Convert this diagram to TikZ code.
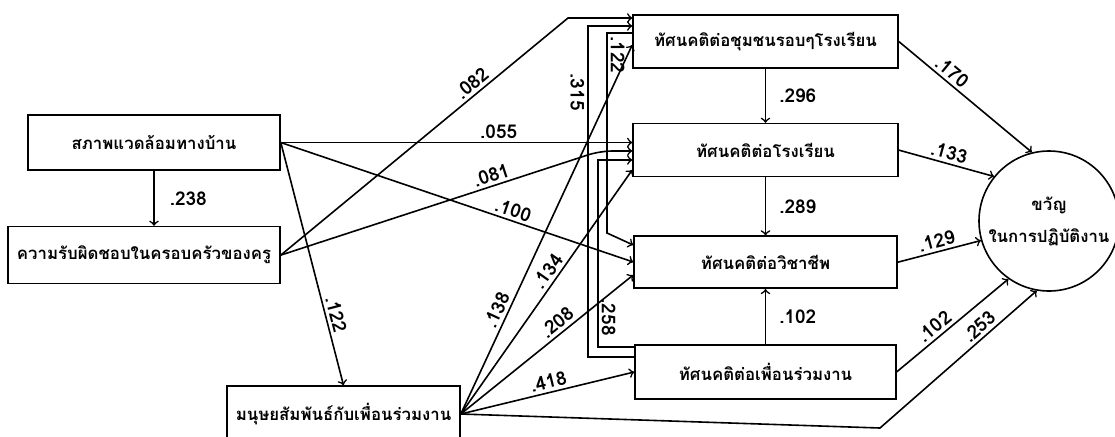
\documentclass[tikz,border=0pt]{standalone}
\usepackage{fontspec}
\setmainfont[Script=Thai]{Loma}
\usetikzlibrary{positioning}
\tikzstyle{path edge}=[->,thick,line cap=round]
\tikzstyle{var box}=[draw,thick,inner sep=0pt,font=\fontsize{8.4}{10}\selectfont\bfseries]
\tikzstyle{coef}=[font=\fontsize{9.5}{10}\selectfont\bfseries,inner sep=1.5pt]
\newcommand{\varnode}[3][]{
  \node [var box, #1] (#2) {#3}
}

\begin{document}
\begin{tikzpicture}[x=0.5pt,y=-0.5pt]
  \useasboundingbox (0,0) rectangle (1115,436);
        \varnode[minimum width=126pt, minimum height=27.5pt, at={(154,142.5)}]{home}{สภาพแวดล้อมทางบ้าน};
        \varnode[minimum width=136pt, minimum height=28.5pt, below left=27.5pt and 0pt of home.south east]{family}{ความรับผิดชอบในครอบครัวของครู};
        \varnode[minimum width=116.5pt, minimum height=28pt, at={(343.5,414)}]{peer}{มนุษยสัมพันธ์กับเพื่อนร่วมงาน};
        \varnode[minimum width=132.5pt, minimum height=26.5pt, at={(765.5,41.5)}]{commu}{ทัศนคติต่อชุมชนรอบๆโรงเรียน};
                \varnode[minimum width=132.5pt, minimum height=26.5pt, below=27pt of commu]{school}{ทัศนคติต่อโรงเรียน};
                \varnode[minimum width=131.5pt, minimum height=26pt, below=29pt of school]{career}{ทัศนคติต่อวิชาชีพ};
                \varnode[minimum width=130.5pt, minimum height=27pt, below=27.5pt of career]{colleag}{ทัศนคติต่อเพื่อนร่วมงาน};
        \varnode[circle, minimum size=70pt, align=center, at={(1049,221)}]{morale}{ขวัญ\\[6pt]ในการปฏิบัติงาน};

            \draw[path edge] (home.south) -- node[coef,right=6pt]{.238} (home.south |- family.north);
            \draw[path edge] (home.east) -- node[coef,above,pos=0.62]{.055} (home.east -| school.west);
            \draw[path edge] (home.east) -- node[coef,sloped,above,pos=0.65]{.100} (career.west |- 0,262);
            \draw[path edge] (home.east) -- node[coef,sloped,above,pos=0.72]{.122} (peer.north);

            \draw[path edge] (family.east) -- node[coef,sloped,above,pos=0.69]{.082} (568,18) -- (commu.west |- 0,18);
            \draw[path edge,rounded corners=6pt] (family.east) -- node[coef,sloped,above,pos=0.67]{.081} (600,151) -- (school.west |- 0,151);

            \draw[path edge] (commu.west |- 0,33) -- (607,33) -- node[coef,rotate=-90,anchor=south,pos=0.11]{.122} (607,233) -- (career.west |- 0,245);
            \draw[path edge] (colleag.west |- 0,357) -- (588,357) -- node[coef,rotate=-90,anchor=north,pos=0.8]{.315} (588,26) -- (commu.west |- 0,26);
            \draw[path edge] (colleag.west |- 0,347) -- (598,347) -- node[coef,rotate=-90,anchor=south,pos=0.16]{.258} (598,160) -- (school.west |- 0,160);

            \draw[path edge] (peer.east) -- node[coef,sloped,above,pos=0.27]{.138} (commu.west |- 0,45);
            \draw[path edge] (peer.east) -- node[coef,sloped,above,pos=0.56]{.134} (school.west |- 0,170);
            \draw[path edge] (peer.east) -- node[coef,sloped,above,pos=0.6]{.208} (career.west |- 0,275);
            \draw[path edge] (peer.east) -- node[coef,sloped,above,pos=0.52]{.418} (colleag.west |- 0,372);
            \draw[path edge] (peer.east) -- (880,428) -- node[coef,sloped,above,pos=0.68]{.253} (morale.-100);

            \draw[path edge] (commu) -- node[coef,right=5pt]{.296} (school);
            \draw[path edge] (school.south) -- node[coef,right=5pt]{.289} (school.south |- career.north);
            \draw[path edge] (colleag.north) -- node[coef,right=5pt]{.102} (colleag.north |- career.south);

            \draw[path edge] (commu.east) -- node[coef,sloped,above,pos=0.35]{.170} (morale.104);
            \draw[path edge] (school.east) -- node[coef,sloped,above,pos=0.5]{.133} (morale.141);
            \draw[path edge] (career.east) -- node[coef,sloped,above,pos=0.5]{.129} (morale.196);
            \draw[path edge] (colleag.east) -- node[coef,sloped,above,pos=0.4]{.102} (morale.-125);
\end{tikzpicture}
\end{document}
